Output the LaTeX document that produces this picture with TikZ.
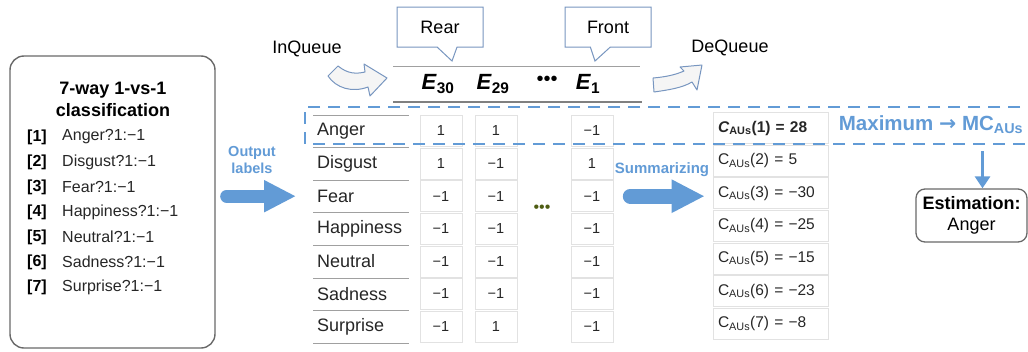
\documentclass[tikz,border=0pt]{standalone}
\usepackage{fontspec}
\setmainfont{Liberation Sans}
\newfontfamily\arrowfont{DejaVu Sans}
\usetikzlibrary{shapes.callouts,arrows.meta}
\definecolor{lblue}{RGB}{98,155,214}
\definecolor{cblue}{RGB}{120,150,192}
\definecolor{cellgray}{RGB}{226,226,226}
\definecolor{rulegray}{RGB}{160,160,160}
\definecolor{boxgray}{RGB}{105,105,105}
\definecolor{dotgreen}{RGB}{78,92,18}

\begin{document}
\begin{tikzpicture}[x=1pt,y=-1pt,
    every node/.style={inner sep=0pt},
    clsbox/.style={draw=boxgray, line width=1.4pt, rounded corners=14pt, minimum width=205pt, minimum height=292pt},
    itemnum/.style={anchor=west, font=\fontsize{16}{18}\selectfont\bfseries},
    itemtxt/.style={anchor=west, font=\fontsize{16}{18}\selectfont, text=black!85},
    rowlab/.style={anchor=west, font=\fontsize{18}{20}\selectfont, text=black!85},
    cell/.style={draw=cellgray, line width=0.6pt, minimum width=42pt, minimum height=31pt, font=\fontsize{14.5}{16}\selectfont, text=black!85},
    sumcell/.style={draw=cellgray, line width=0.6pt, minimum width=115pt, minimum height=31pt, text width=105pt, align=left, font=\fontsize{15.5}{17}\selectfont, text=black!85},
    tag/.style={rectangle callout, draw=cblue, line width=1pt, fill=white, minimum width=86pt, minimum height=40pt, callout pointer width=20pt, font=\fontsize{18}{20}\selectfont},
    elem/.style={font=\fontsize{22}{24}\selectfont},
    bluetxt/.style={text=lblue, font=\fontsize{14.5}{17}\selectfont\bfseries, align=center},
    bigarrow/.style={lblue, line width=13pt, line cap=round, -{Triangle[length=32pt 0, width=30pt 0]}},
    blockarrow/.style={draw=cblue, line width=1pt, fill=gray!8, line join=round}
  ]
  \useasboundingbox (0,0) rectangle (1028,351);

  % left box: the seven binary classifiers
  \node[clsbox] (cls) at (112.5,202) {};
  \node[font=\fontsize{18}{20}\selectfont\bfseries] (title1) at (113,90) {7-way 1-vs-1};
  \node[font=\fontsize{18}{20}\selectfont\bfseries] (title2) at (113,110) {classification};
  \foreach \emo [count=\i] in {Anger,Disgust,Fear,Happiness,Neutral,Sadness,Surprise} {
    \node[itemnum] (num\i) at (27,{137+25*(\i-1)}) {[\i]};
    \node[itemtxt] (item\i) at (62,{137+25*(\i-1)}) {\emo?1:−1};
  }

  % queue with its two pointers
  \draw[rulegray, line width=1pt] (393,66) -- (640,66);
  \draw[gray, line width=2pt] (393,102) -- (642,102);
  \node[elem] (e30) at (438,84) {\textbf{\textit{E}}\textsubscript{\textbf{30}}};
  \node[elem] (e29) at (493,84) {\textbf{\textit{E}}\textsubscript{\textbf{29}}};
  \node[font=\fontsize{20}{22}\selectfont] (edots) at (547,81) {•••};
  \node[elem] (e1) at (588,84) {\textbf{\textit{E}}\textsubscript{\textbf{1}}};
  \node[tag, callout absolute pointer={(452,61)}] (rear) at (440,27) {Rear};
  \node[tag, callout absolute pointer={(595,61)}] (front) at (608,27) {Front};
  \node[font=\fontsize{18}{20}\selectfont] (inq) at (307,49) {InQueue};
  \node[font=\fontsize{18}{20}\selectfont] (deq) at (730,48) {DeQueue};
  % curved block arrows
  \path[blockarrow] (338,66) .. controls (348,74) and (356,74) .. (365,72) -- (364,64)
    -- (387,78) -- (370,96) -- (368,87) .. controls (352,93) and (336,88) .. (328,76) -- cycle;
  \path[blockarrow] (653,78) .. controls (665,77) and (675,75) .. (684,71) -- (680,67)
    -- (702,65) -- (697,90) -- (692,82) .. controls (682,88) and (668,90) .. (654,92) -- cycle;

  % table of the queued outputs
  \foreach \j in {0,...,7}
    \draw[rulegray, line width=1pt] (313,{115+32.6*\j}) -- (409,{115+32.6*\j});
  \foreach \emo/\va/\vb/\vc/\cv [count=\i] in {Anger/1/1/−1/28, Disgust/1/−1/1/5,
      Fear/−1/−1/−1/−30, Happiness/−1/−1/−1/−25, Neutral/−1/−1/−1/−15,
      Sadness/−1/−1/−1/−23, Surprise/−1/1/−1/−8} {
    \pgfmathsetmacro\ry{131+32.6*(\i-1)}
    \node[rowlab] (lab\i) at (317,\ry) {\emo};
    \node[cell] (va\i) at (441,\ry) {\va};
    \node[cell] (vb\i) at (496,\ry) {\vb};
    \node[cell] (vc\i) at (592,\ry) {\vc};
    \ifnum\i=1
      \node[sumcell] (cs\i) at (770.5,\ry-3) {\textbf{\textit{C}\textsubscript{AUs}(\i) = \cv}};
    \else
      \node[sumcell] (cs\i) at (770.5,\ry-3) {C\textsubscript{AUs}(\i) = \cv};
    \fi
  }
  \node[font=\fontsize{16}{18}\selectfont, text=dotgreen] (mdots) at (542,209) {•••};

  % highlighted maximum
  \draw[lblue, line width=2pt, dash pattern=on 12pt off 8pt] (1040,107) -| (305,144) -- (1040,144);
  \node[text=lblue, font=\fontsize{20.5}{22}\selectfont\bfseries] (maxlab) at (931,125) {Maximum {\arrowfont\bfseries →} MC\textsubscript{AUs}};
  \node[draw=boxgray, line width=1.3pt, rounded corners=9pt, minimum width=111pt, minimum height=53pt,
    align=center, font=\fontsize{18}{21}\selectfont] (est) at (971.5,215.5) {\textbf{Estimation:}\\Anger};
  \coordinate (estin) at ([xshift=11pt]est.north);
  \draw[lblue, line width=3pt, -{Triangle[length=12pt 0, width=15pt 0]}] ([yshift=-17pt]maxlab.south -| estin) -- (estin);

  % flow arrows
  \node[bluetxt] (outlab) at (252,160) {Output\\labels};
  \draw[bigarrow] ([xshift=11pt]cls.east |- lab3.west) -- ([xshift=-21pt]lab3.west);
  \node[bluetxt, font=\fontsize{15}{17}\selectfont\bfseries] (summ) at (662,170) {Summarizing};
  \draw[bigarrow, line width=15pt, -{Triangle[length=33pt 0, width=31pt 0]}] ([xshift=17pt]vc3.east) -- ([xshift=-8pt]cs3.west |- vc3.east);
\end{tikzpicture}
\end{document}
